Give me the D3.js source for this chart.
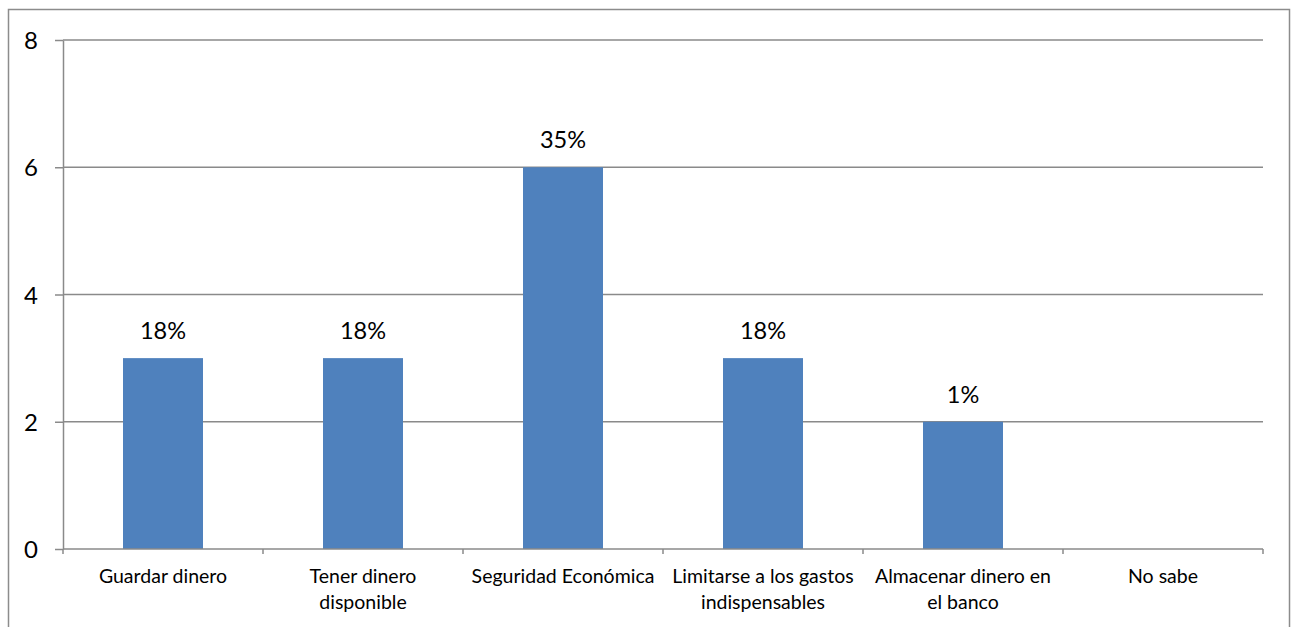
<!DOCTYPE html>
<html>
<head>
<meta charset="utf-8">
<script src="https://cdn.jsdelivr.net/npm/d3@7"></script>
<style>
  html, body { margin: 0; padding: 0; background: #fff; }
  svg { display: block; }
  text { font-family: Lato, "Open Sans", sans-serif; fill: #000; }
</style>
</head>
<body>
<div id="chart"></div>
<script>
// categories (line breaks as in the original chart)
let categories = [
  'Guardar dinero',
  'Tener dinero\ndisponible',
  'Seguridad Económica',
  'Limitarse a los gastos\nindispensables',
  'Almacenar dinero en\nel banco',
  'No sabe'
]
let values = [3, 3, 6, 3, 2, 0]
let pctLabels = ['18%', '18%', '35%', '18%', '1%', '']
let yTicks = [0, 2, 4, 6, 8]

let width = 1291
let height = 627
let margin = { top: 40, right: 28, bottom: 78, left: 63 }

let svg = d3.select('#chart').append('svg')
  .attr('width', width)
  .attr('height', height)

// outer chart border
svg.append('rect')
  .attr('x', 8.5)
  .attr('y', 9.5)
  .attr('width', 1281)
  .attr('height', 640)
  .attr('fill', 'none')
  .attr('stroke', '#8c8c8c')
  .attr('stroke-width', 1.5)

let x = d3.scaleBand()
  .domain(categories)
  .range([margin.left, width - margin.right])
  .paddingInner(0)
  .paddingOuter(0)

let y = d3.scaleLinear()
  .domain([0, 8])
  .range([549, margin.top])

let g = svg.append('g')

// gridlines
g.append('g')
  .selectAll('line')
  .data(yTicks.filter(d => d > 0))
  .enter().append('line')
  .attr('x1', margin.left)
  .attr('x2', width - margin.right)
  .attr('y1', d => y(d))
  .attr('y2', d => y(d))
  .attr('stroke', '#8a8a8a')
  .attr('stroke-width', 1.5)

// bars (gap width 150%)
let barW = x.bandwidth() / 2.5
g.append('g')
  .selectAll('rect')
  .data(values)
  .enter().append('rect')
  .attr('x', (d, i) => x(categories[i]) + (x.bandwidth() - barW) / 2)
  .attr('y', d => y(d))
  .attr('width', barW)
  .attr('height', d => y(0) - y(d))
  .attr('fill', '#4f81bd')

// data labels
g.append('g')
  .selectAll('text')
  .data(values)
  .enter().append('text')
  .attr('x', (d, i) => x(categories[i]) + x.bandwidth() / 2)
  .attr('y', d => y(d) - 19)
  .attr('text-anchor', 'middle')
  .style('font-size', '23.5px')
  .text((d, i) => pctLabels[i])

// y axis
let yAxis = g.append('g')
  .attr('transform', 'translate(' + margin.left + ',0)')
  .call(d3.axisLeft(y).tickValues(yTicks).tickSize(8).tickSizeOuter(0).tickPadding(17))
yAxis.select('.domain').attr('stroke', '#8a8a8a').attr('stroke-width', 1.5)
yAxis.selectAll('.tick line').attr('stroke', '#8a8a8a').attr('stroke-width', 1.5)
yAxis.selectAll('.tick text')
  .style('font-size', '24px')
  .attr('dy', '0.36em')

// x axis
let xAxis = g.append('g')
  .attr('transform', 'translate(0,' + y(0) + ')')
xAxis.append('line')
  .attr('x1', margin.left)
  .attr('x2', width - margin.right)
  .attr('stroke', '#8a8a8a')
  .attr('stroke-width', 1.5)
let bounds = categories.map(c => x(c)).concat([width - margin.right])
xAxis.selectAll('.xt')
  .data(bounds)
  .enter().append('line')
  .attr('class', 'xt')
  .attr('x1', d => d)
  .attr('x2', d => d)
  .attr('y1', 0)
  .attr('y2', 5)
  .attr('stroke', '#8a8a8a')
  .attr('stroke-width', 1.5)

let catText = xAxis.selectAll('.cat')
  .data(categories)
  .enter().append('text')
  .attr('class', 'cat')
  .attr('text-anchor', 'middle')
  .style('font-size', '19.5px')
  .attr('transform', d => 'translate(' + (x(d) + x.bandwidth() / 2) + ',34)')
catText.selectAll('tspan')
  .data(d => d.split('\n'))
  .enter().append('tspan')
  .attr('x', 0)
  .attr('y', (d, i) => i * 26)
  .text(d => d)
</script>
</body>
</html>
